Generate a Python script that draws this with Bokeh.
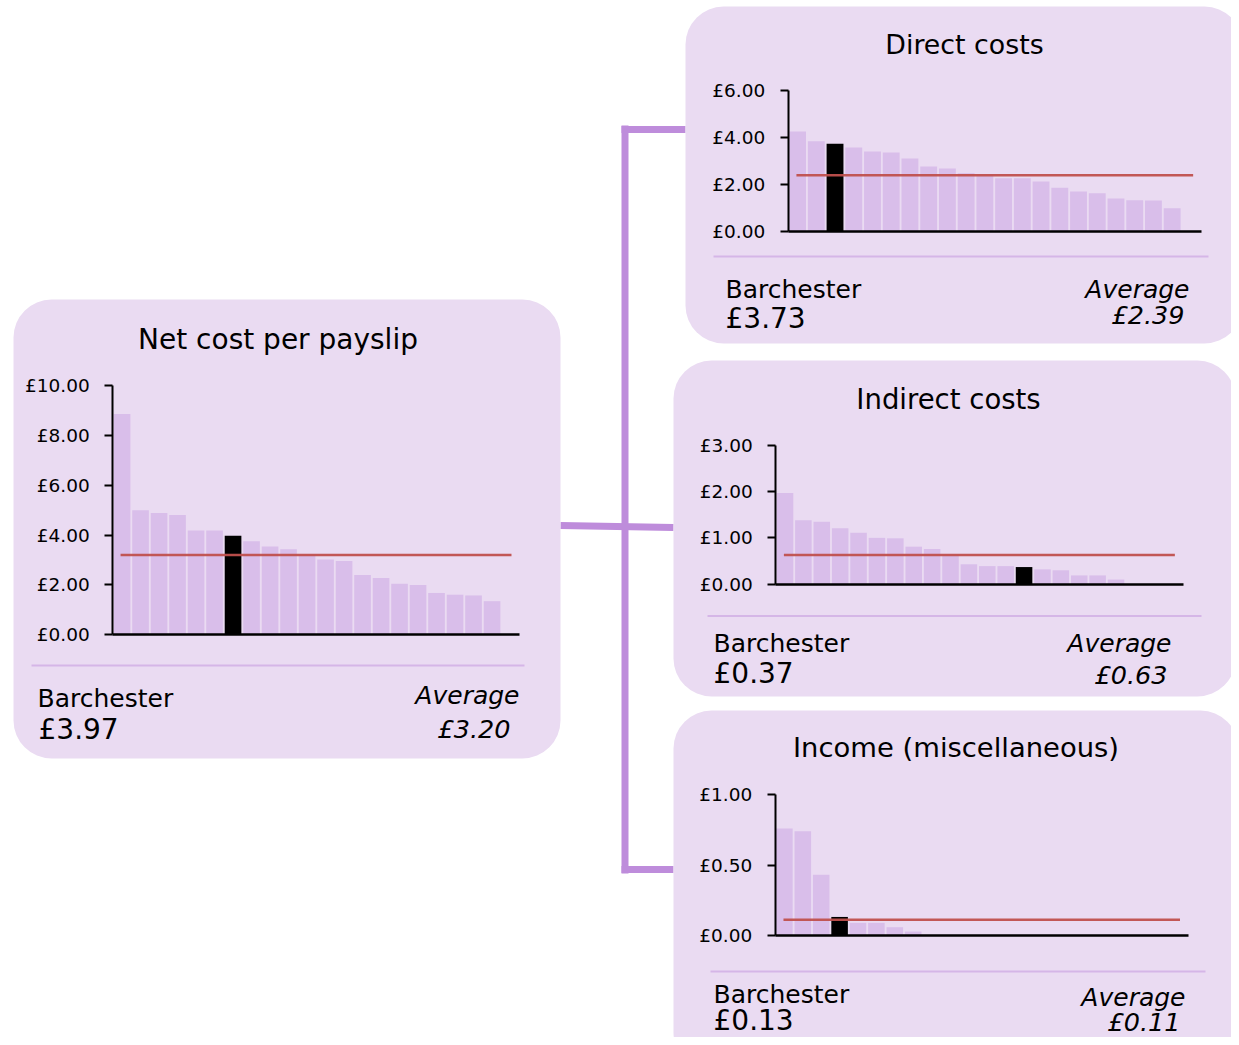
from bokeh.plotting import figure
from bokeh.models import Range1d, LinearAxis, FixedTicker, PrintfTickFormatter, ColumnDataSource
from bokeh.core.properties import value
from bokeh.embed import file_html
from bokeh.resources import INLINE

# ---------------- data ----------------
titles = ["Net cost per payslip", "Direct costs", "Indirect costs", "Income (miscellaneous)"]
highlight_name = "Barchester"
average_name = "Average"

net_cost = [8.87, 5.00, 4.89, 4.80, 4.18, 4.18, 3.97, 3.75, 3.54, 3.43, 3.22,
            3.02, 2.96, 2.39, 2.27, 2.04, 1.99, 1.67, 1.60, 1.57, 1.34]
net_cost_hi = 6
net_cost_avg = 3.20
net_cost_ticks = [0, 2, 4, 6, 8, 10]

direct = [4.26, 3.84, 3.73, 3.57, 3.40, 3.36, 3.11, 2.77, 2.68, 2.48, 2.40,
          2.27, 2.27, 2.13, 1.86, 1.70, 1.63, 1.40, 1.33, 1.32, 0.99]
direct_hi = 2
direct_avg = 2.39
direct_ticks = [0, 2, 4, 6]

indirect = [1.97, 1.38, 1.35, 1.21, 1.11, 1.00, 0.99, 0.81, 0.76, 0.61, 0.43,
            0.39, 0.39, 0.37, 0.32, 0.30, 0.19, 0.19, 0.10, 0.0, 0.0]
indirect_hi = 13
indirect_avg = 0.63
indirect_ticks = [0, 1, 2, 3]

income = [0.76, 0.74, 0.43, 0.13, 0.088, 0.088, 0.057, 0.026, 0.0, 0.0, 0.0,
          0.0, 0.0, 0.0, 0.0, 0.0, 0.0, 0.0, 0.0, 0.0, 0.0]
income_hi = 3
income_avg = 0.11
income_ticks = [0, 0.5, 1.0]

# ---------------- styles ----------------
FONT = value("DejaVu Sans")
PANEL = "#EADBF2"
BAR = "#D9BEEA"
SEP = "#D5B6E7"
LINK = "#BE8CDB"
AVG = "#C0504D"

W, H = 1231, 1037
OX, OY = 0, 0

p = figure(width=W, height=H, x_range=Range1d(OX, OX + W), y_range=Range1d(OY + H, OY),
           output_backend="svg", toolbar_location=None, x_axis_type=None, y_axis_type=None,
           min_border=0)
p.outline_line_color = None
p.background_fill_color = "white"
p.border_fill_color = "white"

# connectors
for xs, ys in [([560, 673], [525, 527]),
               ([624.5, 624.5], [125, 873]),
               ([621, 685], [129, 129]),
               ([621, 673], [869, 869])]:
    p.line(xs, ys, line_color=LINK, line_width=7, line_cap="butt")

# panel layout
panels = [
    dict(box=(13, 560, 299, 758), title_x=277.5, title_y=339, title_size="28px",
         sep=(31, 524, 665), lab_l=(37, 698), val_l=(38, 729), lab_r=(519, 695), val_r=(510, 728),
         geom=(112.3, 18.5, 634.0, 24.87), x_end=21.48, avg_x=(-0.08, 21.05)),
    dict(box=(685, 1242, 6, 343), title_x=964, title_y=44, title_size="26.8px",
         sep=(713, 1208, 256), lab_l=(725, 289), val_l=(725, 318), lab_r=(1189, 289), val_r=(1184, 314),
         geom=(787.7, 18.73, 231.0, 23.5), x_end=21.55, avg_x=(-0.06, 21.12)),
    dict(box=(673, 1235, 360, 696), title_x=948, title_y=398, title_size="27.5px",
         sep=(707, 1201, 615.5), lab_l=(713, 643), val_l=(713, 673), lab_r=(1171, 643), val_r=(1167, 674),
         geom=(775.3, 18.39, 583.7, 46.33), x_end=21.65, avg_x=(-0.06, 21.2)),
    dict(box=(673, 1238, 710, 1070), title_x=955.5, title_y=747, title_size="27.4px",
         sep=(710, 1205, 971), lab_l=(713, 994), val_l=(713, 1020), lab_r=(1185, 997), val_r=(1180, 1021),
         geom=(774.7, 18.4, 934.7, 140.4), x_end=21.95, avg_x=(-0.05, 21.5)),
]

charts = [
    (net_cost, net_cost_hi, net_cost_avg, net_cost_ticks),
    (direct, direct_hi, direct_avg, direct_ticks),
    (indirect, indirect_hi, indirect_avg, indirect_ticks),
    (income, income_hi, income_avg, income_ticks),
]

extra_x = {}
extra_y = {}
for k, (pan, (vals, hi, avg, ticks)) in enumerate(zip(panels, charts)):
    ax_x, slot, y0, ppu = pan["geom"]
    extra_x["x%d" % k] = Range1d(-0.5 + (OX - ax_x) / slot, -0.5 + (OX + W - ax_x) / slot)
    extra_y["y%d" % k] = Range1d((y0 - (OY + H)) / ppu, (y0 - OY) / ppu)
p.extra_x_ranges = extra_x
p.extra_y_ranges = extra_y

for k, (pan, title, (vals, hi, avg, ticks)) in enumerate(zip(panels, titles, charts)):
    l, r, t, b = pan["box"]
    p.quad(left=[l], right=[r], top=[t], bottom=[b], fill_color=PANEL, line_color=None,
           border_radius=38)
    p.text(x=[pan["title_x"]], y=[pan["title_y"]], text=[title], text_font=FONT,
           text_font_size=pan["title_size"], text_align="center", text_baseline="alphabetic",
           text_color="black")
    sx0, sx1, sy = pan["sep"]
    p.line([sx0, sx1], [sy, sy], line_color=SEP, line_width=2)

    xn, yn = "x%d" % k, "y%d" % k
    src = ColumnDataSource(dict(x=list(range(len(vals))), top=vals,
                                color=["black" if i == hi else BAR for i in range(len(vals))]))
    p.vbar(x="x", top="top", bottom=0, width=0.9, fill_color="color", line_color=None,
           source=src, x_range_name=xn, y_range_name=yn)
    p.segment(x0=[pan["avg_x"][0]], x1=[pan["avg_x"][1]], y0=[avg], y1=[avg],
              line_color=AVG, line_width=2.5, line_alpha=0.95, x_range_name=xn, y_range_name=yn)

    yax = LinearAxis(x_range_name=xn, y_range_name=yn, fixed_location=-0.5,
                     bounds=(ticks[0], ticks[-1]), ticker=FixedTicker(ticks=ticks),
                     formatter=PrintfTickFormatter(format="£%.2f"))
    yax.axis_line_width = 2
    yax.axis_line_color = "black"
    yax.major_tick_in = 0
    yax.major_tick_out = 8
    yax.major_tick_line_width = 2
    yax.minor_tick_line_color = None
    yax.major_label_standoff = 15
    yax.major_label_text_font = "DejaVu Sans"
    yax.major_label_text_font_size = "18.5px"
    yax.major_label_text_color = "black"
    p.add_layout(yax, "left")

    xax = LinearAxis(x_range_name=xn, y_range_name=yn, fixed_location=0,
                     bounds=(-0.5, pan["x_end"]), ticker=FixedTicker(ticks=[]))
    xax.axis_line_width = 2.5
    xax.axis_line_color = "black"
    xax.major_tick_line_color = None
    xax.minor_tick_line_color = None
    xax.major_label_text_font_size = "0px"
    p.add_layout(xax, "below")

    # footer texts
    p.text(x=[pan["lab_l"][0]], y=[pan["lab_l"][1]], text=[highlight_name], text_font=FONT,
           text_font_size="25px", text_align="left", text_baseline="alphabetic", text_color="black")
    p.text(x=[pan["val_l"][0]], y=[pan["val_l"][1]], text=["£%.2f" % vals[hi]], text_font=FONT,
           text_font_size="28px", text_align="left", text_baseline="alphabetic", text_color="black")
    p.text(x=[pan["lab_r"][0]], y=[pan["lab_r"][1]], text=[average_name], text_font=FONT,
           text_font_size="25px", text_font_style="italic", text_align="right",
           text_baseline="alphabetic", text_color="black")
    p.text(x=[pan["val_r"][0]], y=[pan["val_r"][1]], text=["£%.2f" % avg], text_font=FONT,
           text_font_size="25.5px", text_font_style="italic", text_align="right",
           text_baseline="alphabetic", text_color="black")

open("out.html", "w").write(file_html(p, INLINE))
